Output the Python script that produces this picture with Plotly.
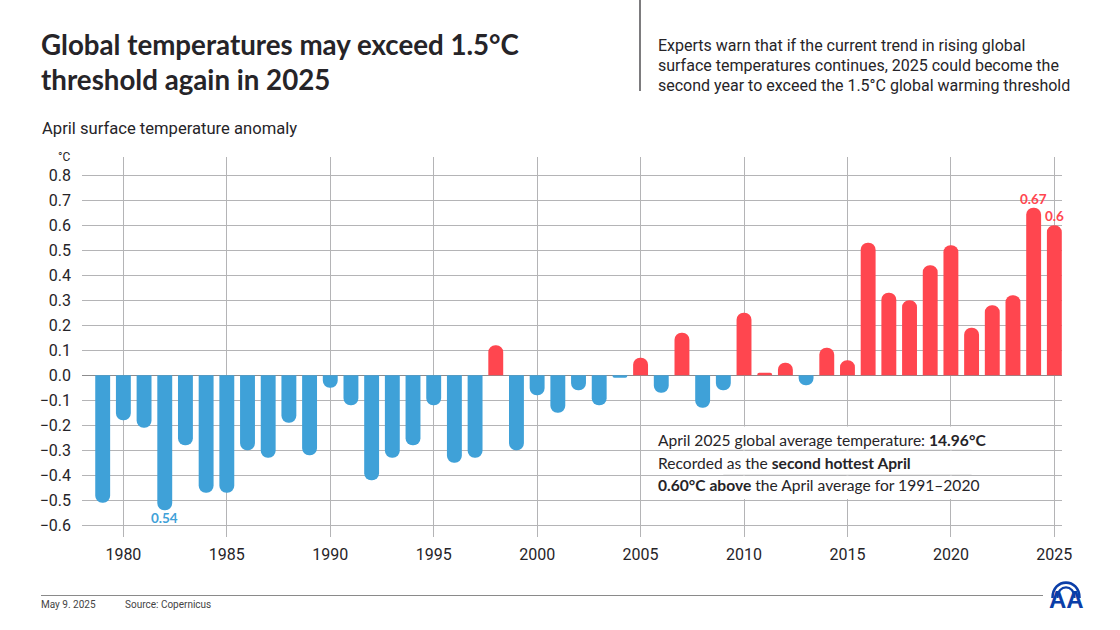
import plotly.graph_objects as go

W, H = 1120, 630
L, R, T, B = 82, 1062, 157, 537

# April anomaly in degC
years = list(range(1979, 2026))
anomaly = [
    -0.51, -0.18, -0.21, -0.54, -0.28, -0.47, -0.47, -0.30, -0.33, -0.19,
    -0.32, -0.05, -0.12, -0.42, -0.33, -0.28, -0.12, -0.35, -0.33, 0.12,
    -0.30, -0.08, -0.15, -0.06, -0.12, -0.01, 0.07, -0.07, 0.17, -0.13,
    -0.06, 0.25, 0.01, 0.05, -0.04, 0.11, 0.06, 0.53, 0.33, 0.30,
    0.44, 0.52, 0.19, 0.28, 0.32, 0.67, 0.60,
]
y_ticks = [0.8, 0.7, 0.6, 0.5, 0.4, 0.3, 0.2, 0.1, 0.0, -0.1, -0.2, -0.3, -0.4, -0.5, -0.6]
x_ticks = [1980, 1985, 1990, 1995, 2000, 2005, 2010, 2015, 2020, 2025]

BLUE = "#3fa1d8"
RED = "#ff464f"
GRID = "#b4b4b6"
INK = "#262428"
HEAD = "Lato"
BODY = "Roboto"


def px(x):
    return (x - L) / (R - L)


def py(y):
    return (B - y) / (B - T)


def label(x, y, text, size, color=INK, family=BODY, anchor="left"):
    # annotations carry about 2px of padding, so pull left-aligned text back
    if anchor == "left":
        x = x - 2
    return dict(
        xref="paper", yref="paper", x=px(x), y=py(y), text=text, showarrow=False,
        xanchor=anchor, yanchor="middle", align="left",
        font=dict(size=size, color=color, family=family),
    )


fig = go.Figure()
fig.add_trace(go.Bar(
    x=years,
    y=anomaly,
    width=0.72,
    marker=dict(color=[RED if v > 0 else BLUE for v in anomaly], cornerradius=7, line_width=0),
    hoverinfo="x+y",
))

annotations = [
    label(41, 44.5, "<b>Global temperatures may exceed 1.5°C</b>", 27.7, family=HEAD),
    label(41, 80, "<b>threshold again in 2025</b>", 27.7, family=HEAD),
    label(658, 45.5, "Experts warn that if the current trend in rising global", 16),
    label(658, 65.5, "surface temperatures continues, 2025 could become the", 16),
    label(658, 85, "second year to exceed the 1.5°C global warming threshold", 16),
    label(42, 128, "April surface temperature anomaly", 16.6),
    label(72, 157, "°C", 12, anchor="right"),
    label(658, 440, "April 2025 global average temperature: <b>14.96°C</b>", 15.6, family=HEAD),
    label(658, 463, "Recorded as the <b>second hottest April</b>", 15.6, family=HEAD),
    label(658, 485, "<b>0.60°C above</b> the April average for 1991–2020", 15.6, family=HEAD),
    label(41, 604, "May 9. 2025", 10, color="#444444"),
    label(125, 604, "Source: Copernicus", 10, color="#444444"),
    label(1066, 599, "<b>AA</b>", 24, color="#0b3ea8", family="Liberation Sans", anchor="center"),
]
# value labels sit just past the bar end
for yr, val, txt, col in [(1982, -0.54, "0.54", BLUE), (2024, 0.67, "0.67", RED), (2025, 0.60, "0.6", RED)]:
    annotations.append(dict(
        x=yr, y=val, xref="x", yref="y", text=f"<b>{txt}</b>", showarrow=False,
        yshift=-8 if val < 0 else 9, yanchor="middle", xanchor="center",
        font=dict(size=13.5, color=col, family=HEAD),
    ))

shapes = [
    dict(type="line", xref="paper", yref="paper", x0=px(640), x1=px(640), y0=py(0), y1=py(91),
         line=dict(color="#262428", width=1.2)),
    dict(type="line", xref="paper", yref="paper", x0=px(41), x1=px(1043), y0=py(595.5), y1=py(595.5),
         line=dict(color="#8a8a8a", width=1)),
]
# vertical grid is broken behind the note text
for yr in [2010, 2015, 2020]:
    shapes.append(dict(type="line", xref="x", yref="y", x0=yr, x1=yr, y0=-0.205, y1=-0.495,
                       layer="between", line=dict(color="white", width=2)))
for lvl in [-0.3, -0.4]:
    shapes.append(dict(type="line", xref="x", yref="y", x0=2009, x1=2021, y0=lvl, y1=lvl,
                       layer="between", line=dict(color=GRID, width=1)))
# logo arcs
for r, w in [(13.5, 2.6), (8.5, 2.2)]:
    cx, cy = 1066, 595
    p0 = f"M{px(cx - r)},{py(cy + 3)}"
    p1 = f"C{px(cx - r)},{py(cy - r * 1.3)} {px(cx + r)},{py(cy - r * 1.3)} {px(cx + r)},{py(cy + 3)}"
    shapes.append(dict(type="path", xref="paper", yref="paper", path=p0 + " " + p1,
                       line=dict(color="#0b3ea8", width=w)))

fig.update_layout(
    width=W,
    height=H,
    margin=dict(l=L, r=W - R, t=T, b=H - B, pad=0),
    paper_bgcolor="white",
    plot_bgcolor="white",
    showlegend=False,
    bargap=0.28,
    annotations=annotations,
    shapes=shapes,
    font=dict(family=BODY, color=INK),
)
fig.update_xaxes(
    range=[1978.0, 2025.37],
    tickvals=x_ticks,
    showgrid=True,
    gridcolor=GRID,
    gridwidth=1,
    zeroline=False,
    showline=False,
    ticks="",
    ticklabelstandoff=6,
    tickfont=dict(size=16, color=INK, family=BODY),
)
fig.update_yaxes(
    range=[-0.647, 0.873],
    tickvals=y_ticks,
    tickformat=".1f",
    showgrid=True,
    gridcolor=GRID,
    gridwidth=1,
    zeroline=True,
    zerolinecolor="#8c8c8e",
    zerolinewidth=1,
    showline=False,
    ticks="",
    ticklabelstandoff=10,
    tickfont=dict(size=16, color=INK, family=BODY),
)

fig.write_html("out.html", config={"displayModeBar": False}, post_script="document.body.style.margin='0';")
